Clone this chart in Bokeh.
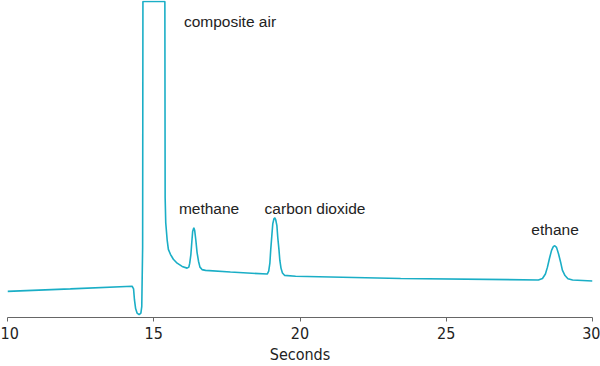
from bokeh.plotting import figure
from bokeh.models import Range1d, ColumnDataSource, FixedTicker
from bokeh.core.properties import value
from bokeh.embed import file_html
from bokeh.resources import INLINE

# Chromatogram trace (time in seconds, detector signal in arbitrary units)
time_s = [10.00, 12.15, 14.26, 14.31, 14.34, 14.38, 14.43, 14.50, 14.56, 14.59, 14.62, 14.63,
          15.38, 15.39, 15.41, 15.46, 15.50, 15.57, 15.67, 15.80, 15.97, 16.14, 16.20, 16.23,
          16.27, 16.30, 16.33, 16.37, 16.40, 16.44, 16.48, 16.53, 16.58, 16.65, 16.77, 17.62,
          18.88, 18.93, 18.97, 19.00, 19.04, 19.07, 19.11, 19.14, 19.17, 19.21, 19.24, 19.28,
          19.31, 19.35, 19.40, 19.47, 19.85, 23.44, 28.15, 28.29, 28.39, 28.46, 28.53, 28.60,
          28.66, 28.71, 28.77, 28.84, 28.91, 28.97, 29.06, 29.16, 29.32, 30.00]
signal = [26.5, 29.0, 31.7, 29.0, 18.0, 9.0, 4.5, 3.0, 4.5, 11.0, 71.0, 320.0,
          320.0, 121.0, 96.0, 78.0, 69.0, 64.0, 59.0, 55.0, 51.7, 50.0, 51.0, 55.0,
          64.0, 76.0, 87.0, 91.0, 88.0, 78.0, 66.0, 57.0, 51.0, 48.5, 47.7, 46.0,
          44.0, 47.0, 55.0, 69.0, 84.0, 95.0, 100.0, 101.0, 99.0, 93.0, 81.0, 69.0,
          58.0, 50.0, 45.0, 42.7, 41.7, 39.5, 38.0, 39.5, 44.0, 51.0, 60.0, 68.0,
          71.7, 72.7, 71.0, 64.3, 56.0, 48.0, 42.5, 39.3, 38.0, 37.0]

peak_names = ["composite air", "methane", "carbon dioxide", "ethane"]
label_t = [16.03, 15.86, 18.79, 27.91]
label_s = [299.3, 110.0, 110.0, 88.7]

x_ticks = [10, 15, 20, 25, 30]

p = figure(width=600, height=366, output_backend="svg", toolbar_location=None,
           x_range=Range1d(10, 30), y_range=Range1d(0, 321),
           y_axis_location=None, min_border_left=7, min_border_right=8,
           min_border_top=0, min_border_bottom=45)
p.outline_line_color = None
p.grid.visible = False
p.background_fill_color = "white"
p.border_fill_color = "white"

p.line(time_s, signal, line_color="#1aaec6", line_width=1.6)

src = ColumnDataSource(dict(x=label_t, y=label_s, t=peak_names))
p.text("x", "y", text="t", source=src, text_font=value("Liberation Sans"),
       text_font_size="15.5px", text_color="#222222", text_align="left",
       text_baseline="alphabetic")

cond_font = "'DejaVu Sans Condensed', 'Roboto', sans-serif"
ax = p.xaxis[0]
ax.ticker = FixedTicker(ticks=x_ticks)
ax.axis_label = "Seconds"
ax.axis_line_color = "#666666"
ax.major_tick_line_color = "#666666"
ax.major_tick_in = 0
ax.major_tick_out = 4
ax.minor_tick_line_color = None
ax.major_label_text_font = cond_font
ax.major_label_text_font_size = "16px"
ax.major_label_text_color = "#222222"
ax.major_label_standoff = 5
ax.axis_label_text_font = cond_font
ax.axis_label_text_font_size = "16px"
ax.axis_label_text_font_style = "normal"
ax.axis_label_text_color = "#222222"
ax.axis_label_standoff = 3

open("out.html", "w").write(file_html(p, INLINE))
